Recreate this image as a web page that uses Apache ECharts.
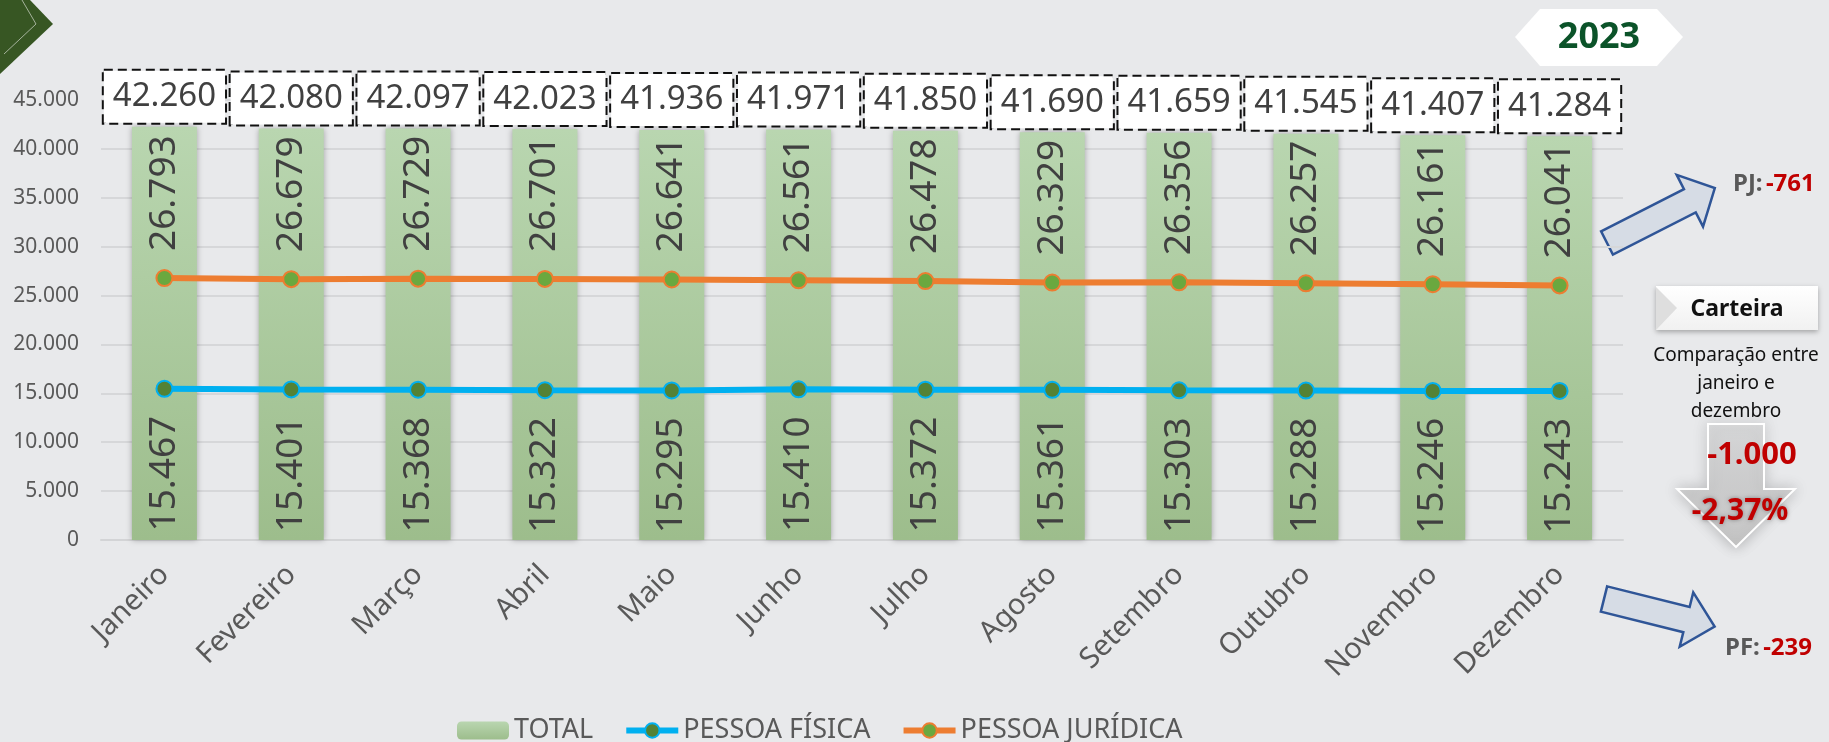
<!DOCTYPE html>
<html>
<head>
<meta charset="utf-8">
<script src="https://cdn.jsdelivr.net/npm/echarts@6/dist/echarts.min.js"></script>
<style>
  html, body { margin: 0; padding: 0; background: #e8e9eb; }
  #carteira { width: 1829px; height: 742px; }
</style>
</head>
<body>
<div id="carteira"></div>
<script>
const meses = ['Janeiro', 'Fevereiro', 'Março', 'Abril', 'Maio', 'Junho', 'Julho', 'Agosto', 'Setembro', 'Outubro', 'Novembro', 'Dezembro'];
const total = [42260, 42080, 42097, 42023, 41936, 41971, 41850, 41690, 41659, 41545, 41407, 41284];
const pessoaJuridica = [26793, 26679, 26729, 26701, 26641, 26561, 26478, 26329, 26356, 26257, 26161, 26041];
const pessoaFisica = [15467, 15401, 15368, 15322, 15295, 15410, 15372, 15361, 15303, 15288, 15246, 15243];
const ano = '2023';
const variacaoPJ = '-761';
const variacaoPF = '-239';
const variacaoTotal = '-1.000';
const variacaoPct = '-2,37%';

const fonte = '"Noto Sans", sans-serif';

// milhar com ponto (pt-BR)
function fmt(v) {
  return String(v).replace(/\B(?=(\d{3})+(?!\d))/g, '.');
}

// seta em bloco: cauda (tx,ty), angulo em graus, comprimento total
function seta(tx, ty, ang, len, meia, cabeca, compCabeca) {
  const a = ang * Math.PI / 180;
  const u = [Math.cos(a), Math.sin(a)];
  const n = [-Math.sin(a), Math.cos(a)];
  const s = len - compCabeca;
  const p = (d, w) => [tx + u[0] * d + n[0] * w, ty + u[1] * d + n[1] * w];
  return [p(0, -meia), p(s, -meia), p(s, -cabeca), p(len, 0), p(s, cabeca), p(s, meia), p(0, meia)];
}

const chart = echarts.init(document.getElementById('carteira'));

chart.setOption({
  backgroundColor: '#e8e9eb',
  textStyle: { fontFamily: fonte },
  grid: { left: 101, right: 206, top: 100, bottom: 202 },
  legend: {
    data: ['TOTAL', 'PESSOA FÍSICA', 'PESSOA JURÍDICA'],
    left: 452,
    top: 712,
    itemWidth: 52,
    itemHeight: 18,
    itemGap: 30,
    lineStyle: { width: 6 },
    textStyle: { fontSize: 27, color: '#595959', fontFamily: fonte }
  },
  xAxis: {
    type: 'category',
    data: meses,
    axisTick: { show: false },
    axisLine: { lineStyle: { color: '#d3d4d6', width: 2 } },
    axisLabel: { rotate: 45, fontSize: 29, color: '#595959', margin: 30, fontFamily: fonte }
  },
  yAxis: {
    type: 'value',
    min: 0,
    max: 45000,
    interval: 5000,
    axisLabel: { fontSize: 21, color: '#595959', margin: 22, fontFamily: fonte, formatter: v => fmt(v) },
    splitLine: { lineStyle: { color: '#d6d7d9', width: 2 } }
  },
  series: [
    {
      name: 'TOTAL',
      type: 'bar',
      data: total,
      barWidth: 65,
      itemStyle: {
        color: new echarts.graphic.LinearGradient(0, 0, 0, 1, [
          { offset: 0, color: '#b9d6b0' },
          { offset: 1, color: '#9dbd8c' }
        ]),
        shadowBlur: 6,
        shadowColor: 'rgba(0,0,0,0.3)'
      },
      label: {
        show: true,
        position: 'top',
        distance: 4,
        formatter: p => fmt(p.value),
        fontSize: 33,
        lineHeight: 44,
        color: '#404040',
        fontFamily: fonte,
        backgroundColor: '#ffffff',
        borderColor: '#111',
        borderWidth: 2,
        borderType: [9, 5],
        padding: [4, 9, 4, 9]
      }
    },
    {
      name: 'PESSOA FÍSICA',
      type: 'line',
      data: pessoaFisica,
      symbol: 'circle',
      symbolSize: 16,
      lineStyle: { color: '#00b0f0', width: 6 },
      itemStyle: { color: '#548235', borderColor: '#00b0f0', borderWidth: 2 },
      label: {
        show: true,
        position: 'bottom',
        distance: 18,
        rotate: 90,
        align: 'right',
        verticalAlign: 'middle',
        fontSize: 37,
        color: '#404040',
        fontFamily: fonte,
        formatter: p => fmt(p.value)
      }
    },
    {
      name: 'PESSOA JURÍDICA',
      type: 'line',
      data: pessoaJuridica,
      symbol: 'circle',
      symbolSize: 16,
      lineStyle: { color: '#ed7d31', width: 6 },
      itemStyle: { color: '#6aa83f', borderColor: '#ed7d31', borderWidth: 2 },
      label: {
        show: true,
        position: 'top',
        distance: 18,
        rotate: 90,
        align: 'left',
        verticalAlign: 'middle',
        fontSize: 37,
        color: '#404040',
        fontFamily: fonte,
        formatter: p => fmt(p.value)
      }
    }
  ],
  graphic: [
    // canto superior esquerdo
    { type: 'polygon', shape: { points: [[0, 0], [30, 0], [53, 24], [0, 74]] }, style: { fill: '#375623' } },
    { type: 'polyline', shape: { points: [[22, 0], [36, 24], [4, 54]] }, style: { stroke: 'rgba(255,255,255,0.55)', lineWidth: 1, fill: null } },
    // ano
    { type: 'polygon', shape: { points: [[1515, 37], [1540, 9], [1657, 9], [1683, 37], [1657, 66], [1540, 66]] }, style: { fill: '#ffffff' } },
    { type: 'text', x: 1599, y: 38, style: { text: ano, font: 'bold 36px ' + fonte, fill: '#0b5329', align: 'center', verticalAlign: 'middle' } },
    // seta PJ
    { type: 'polygon', shape: { points: seta(1607, 243, -27, 121, 13, 29, 28) }, style: { fill: '#d6dce5', stroke: '#2f5597', lineWidth: 2.5 } },
    {
      type: 'text', x: 1733, y: 184,
      style: {
        text: '{a|PJ:} {b|' + variacaoPJ + '}', verticalAlign: 'middle',
        rich: {
          a: { font: 'bold 24px ' + fonte, fill: '#595959' },
          b: { font: 'bold 24px ' + fonte, fill: '#c00000' }
        }
      }
    },
    // seta PF
    { type: 'polygon', shape: { points: seta(1604, 599, 14, 114, 13, 28, 29) }, style: { fill: '#d6dce5', stroke: '#2f5597', lineWidth: 2.5 } },
    {
      type: 'text', x: 1725, y: 648,
      style: {
        text: '{a|PF:} {b|' + variacaoPF + '}', verticalAlign: 'middle',
        rich: {
          a: { font: 'bold 24px ' + fonte, fill: '#595959' },
          b: { font: 'bold 24px ' + fonte, fill: '#c00000' }
        }
      }
    },
    // caixa Carteira
    {
      type: 'rect', shape: { x: 1656, y: 286, width: 162, height: 44 },
      style: {
        fill: new echarts.graphic.LinearGradient(0, 0, 0, 1, [{ offset: 0, color: '#ffffff' }, { offset: 1, color: '#f1f1f1' }]),
        shadowBlur: 5, shadowOffsetY: 2, shadowColor: 'rgba(0,0,0,0.3)'
      }
    },
    { type: 'polygon', shape: { points: [[1656, 287], [1677, 308], [1656, 330]] }, style: { fill: '#dedede' } },
    { type: 'text', x: 1737, y: 309, style: { text: 'Carteira', font: 'bold 23px ' + fonte, fill: '#111', align: 'center', verticalAlign: 'middle' } },
    {
      type: 'text', x: 1736, y: 342,
      style: { text: 'Comparação entre\njaneiro e\ndezembro', font: '19px ' + fonte, lineHeight: 28, fill: '#111', align: 'center', verticalAlign: 'top' }
    },
    // seta para baixo
    {
      type: 'polygon',
      shape: { points: [[1708, 424], [1764, 424], [1764, 489], [1795, 489], [1736, 547], [1677, 489], [1708, 489]] },
      style: {
        fill: new echarts.graphic.LinearGradient(0, 0, 0, 1, [{ offset: 0, color: 'rgba(215,215,215,0.3)' }, { offset: 1, color: '#c9c9c9' }]),
        stroke: '#ffffff', lineWidth: 2,
        shadowBlur: 14, shadowColor: 'rgba(0,0,0,0.25)'
      }
    },
    { type: 'text', x: 1752, y: 455, style: { text: variacaoTotal, font: 'bold 31px ' + fonte, fill: '#c00000', align: 'center', verticalAlign: 'middle' } },
    {
      type: 'text', x: 1740, y: 511,
      style: { text: variacaoPct, font: 'bold 30px ' + fonte, fill: '#c00000', align: 'center', verticalAlign: 'middle', textShadowBlur: 4, textShadowColor: 'rgba(0,0,0,0.35)' }
    }
  ]
});
</script>
</body>
</html>
